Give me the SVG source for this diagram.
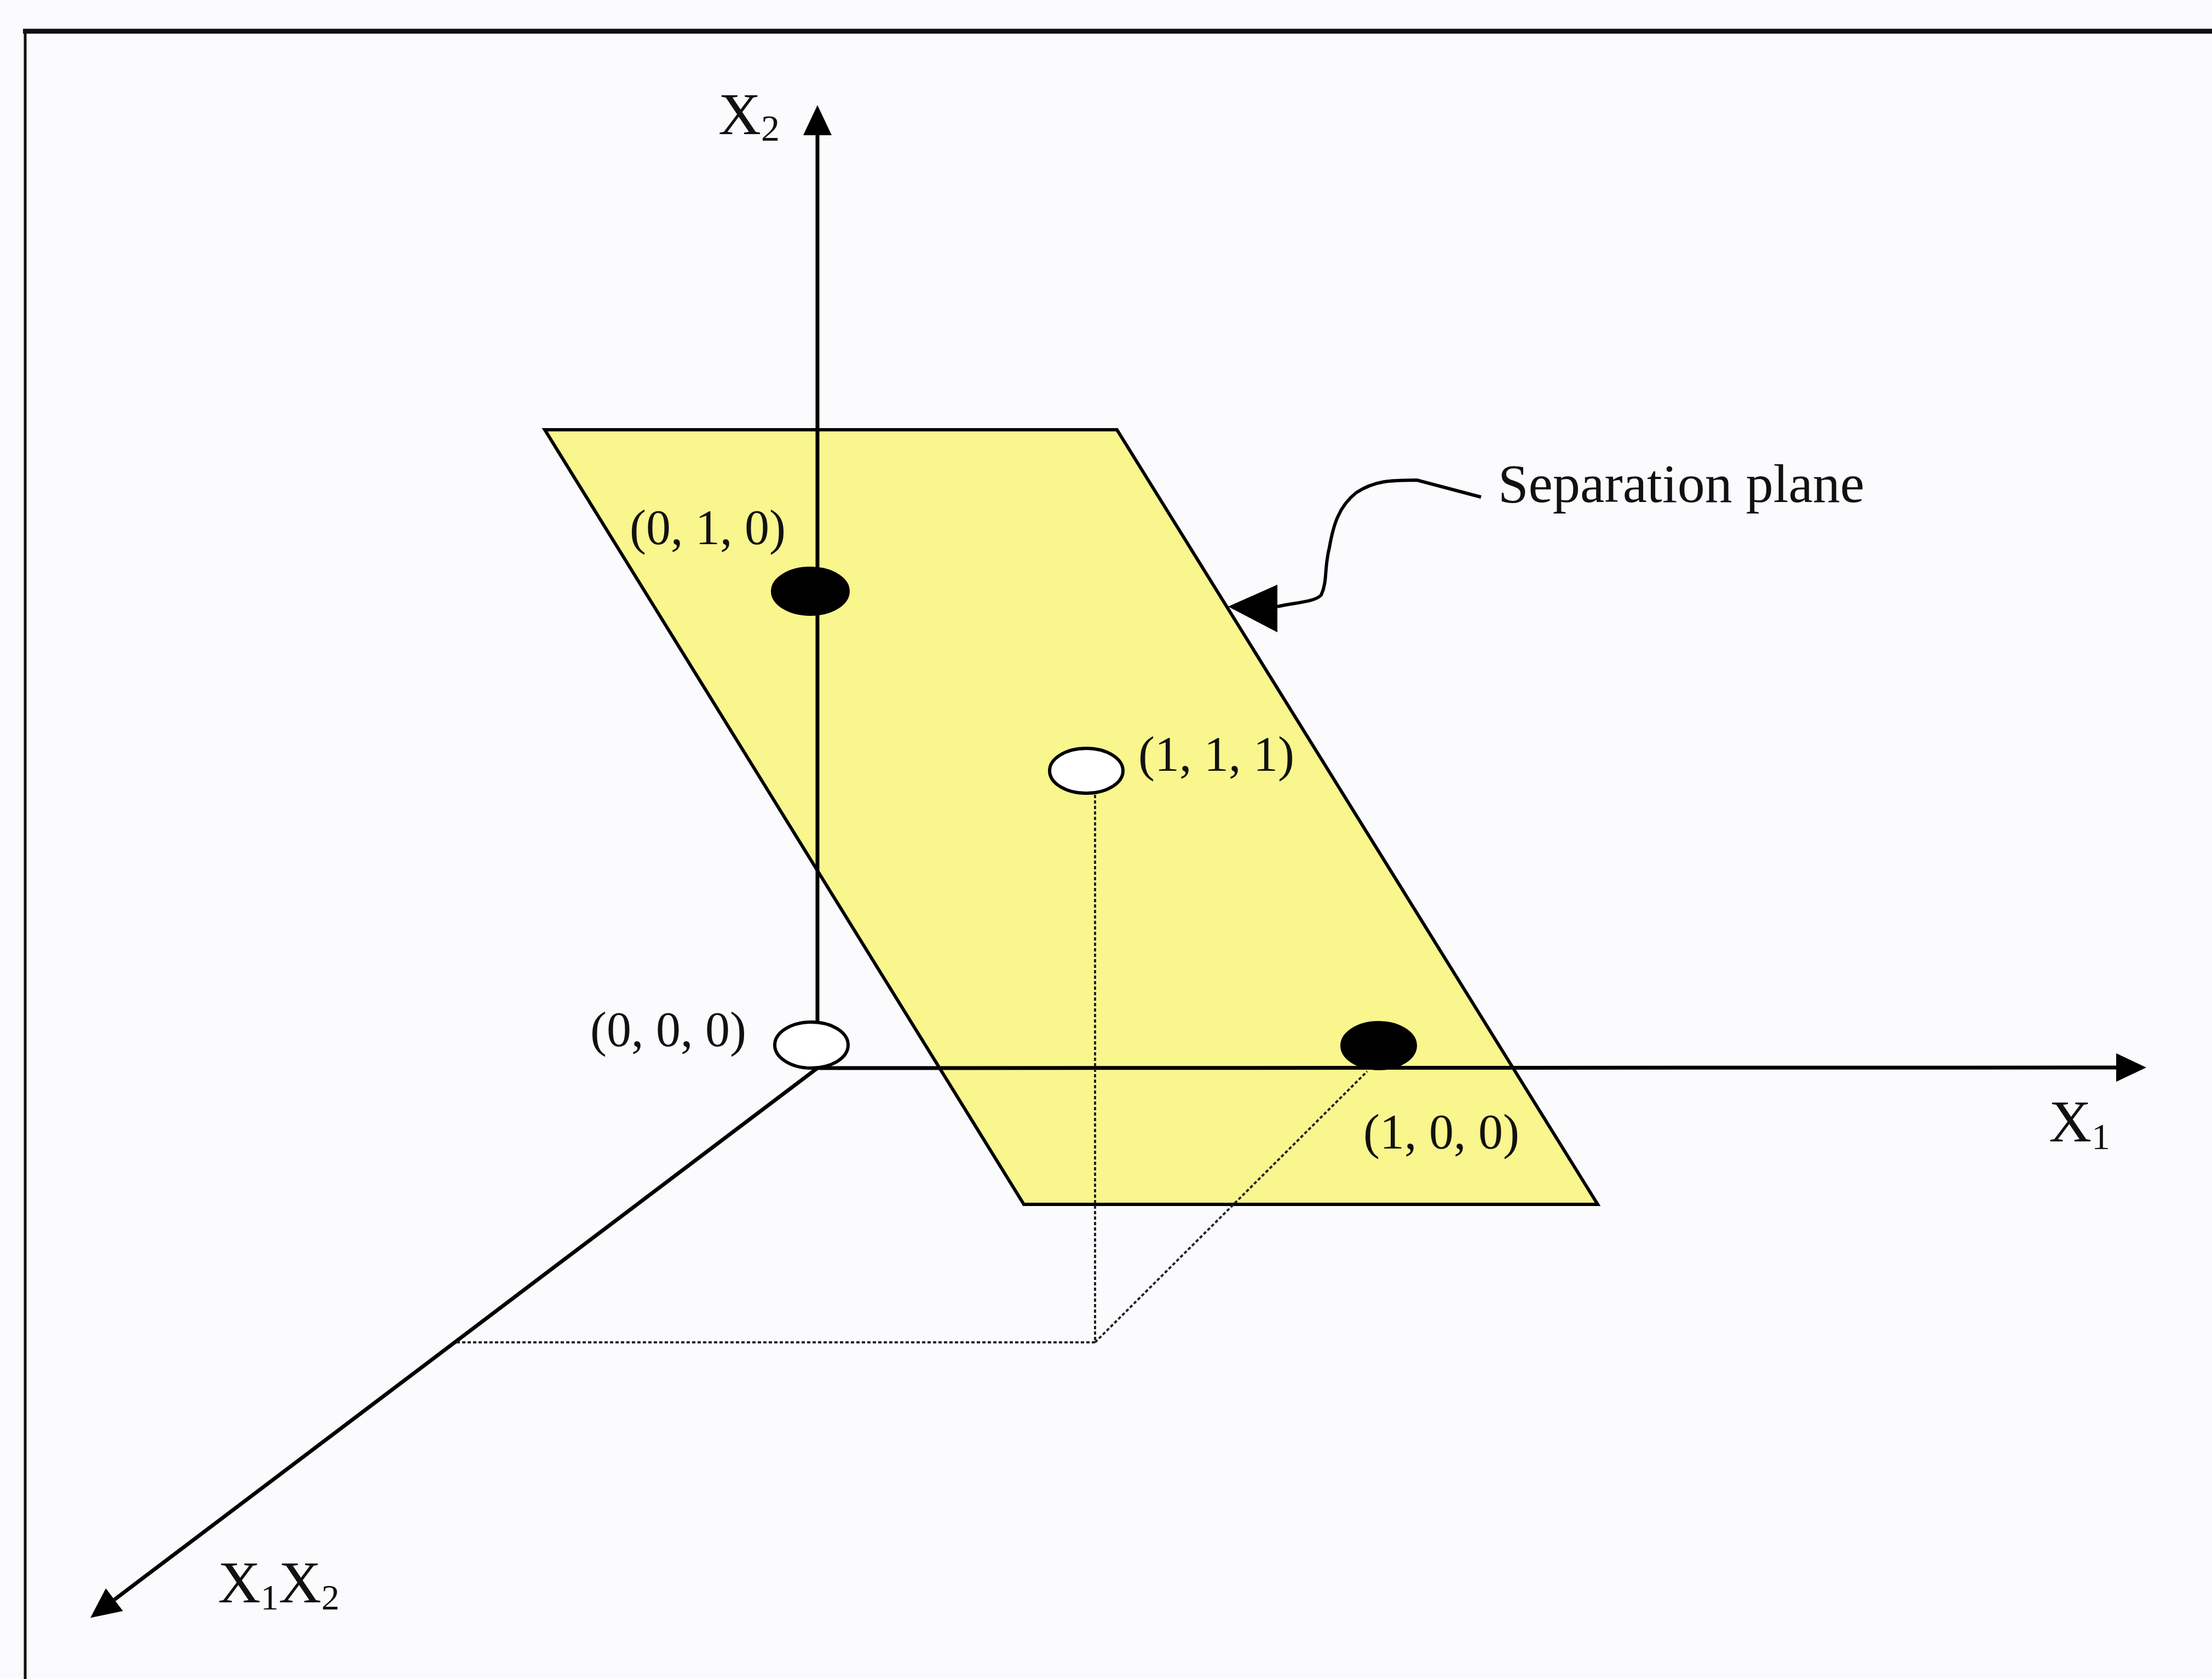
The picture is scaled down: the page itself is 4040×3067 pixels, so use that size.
<svg xmlns="http://www.w3.org/2000/svg" width="4040" height="3067" viewBox="0 0 4040 3067">
<defs>
<style>
.axis{stroke:#000;stroke-width:7;fill:none}
.frame{stroke:#111;fill:none}
.edge{stroke:#000;stroke-width:6}
.dot{stroke:#222;stroke-width:4;stroke-dasharray:6 4;fill:none}
.lbl{font-family:"Liberation Serif","Times New Roman",serif;fill:#111}
.pt-filled{fill:#000;stroke:#000;stroke-width:4}
.pt-open{fill:#fff;stroke:#000;stroke-width:6}
</style>
<marker id="arr" markerUnits="userSpaceOnUse" markerWidth="60" markerHeight="60" viewBox="0 -30 60 60" refX="0" refY="0" orient="auto">
<path d="M0,-26 L55,0 L0,26 Z" fill="#000"/>
</marker>
</defs>
<rect x="0" y="0" width="4040" height="3067" fill="#fbfbfd"/>
<g id="frame">
<line class="frame" x1="42" y1="57" x2="4040" y2="57" stroke-width="9"/>
<line class="frame" x1="46" y1="57" x2="46" y2="3067" stroke-width="5"/>
</g>
<g id="plane">
<polygon points="995,785 2040,785 2918,2200 1870,2200" fill="#f9f68e" class="edge"/>
</g>
<g id="connectors">
<line class="axis" x1="1493" y1="1951" x2="1493" y2="247" marker-end="url(#arr)"/>
<line class="axis" x1="1493" y1="1951" x2="3865" y2="1950" marker-end="url(#arr)"/>
<line class="axis" x1="1493" y1="1951" x2="209" y2="2922" marker-end="url(#arr)"/>
<line class="dot" x1="2000" y1="1452" x2="2000" y2="2452"/>
<line class="dot" x1="834" y1="2452" x2="2000" y2="2452"/>
<line class="dot" x1="2000" y1="2452" x2="2497" y2="1957"/>
<path d="M2705,908 L2588,877 C2540,877 2510,878 2477,900 C2445,925 2435,960 2428,1000 C2418,1040 2425,1060 2413,1087 C2400,1100 2370,1100 2333,1108" fill="none" stroke="#000" stroke-width="6"/>
<polygon points="2243,1108 2333,1068 2333,1155" fill="#000"/>
</g>
<g id="node-010">
<ellipse class="pt-filled" cx="1480" cy="1080" rx="70" ry="43"/>
<text class="lbl" x="1150" y="994" font-size="90">(0, 1, 0)</text>
</g>
<g id="node-111">
<ellipse class="pt-open" cx="1984" cy="1408" rx="67" ry="41"/>
<text class="lbl" x="2079" y="1408" font-size="90">(1, 1, 1)</text>
</g>
<g id="node-000">
<ellipse class="pt-open" cx="1482" cy="1909" rx="67" ry="42"/>
<text class="lbl" x="1078" y="1911" font-size="90">(0, 0, 0)</text>
</g>
<g id="node-100">
<ellipse class="pt-filled" cx="2518" cy="1910" rx="68" ry="43"/>
<text class="lbl" x="2490" y="2098" font-size="90">(1, 0, 0)</text>
</g>
<g id="axis-labels">
<text class="lbl" x="1312" y="245" font-size="108">X<tspan font-size="68" dy="12">2</tspan></text>
<text class="lbl" x="3742" y="2085" font-size="108">X<tspan font-size="68" dy="14">1</tspan></text>
<text class="lbl" x="398" y="2927" font-size="108">X<tspan font-size="66" dy="13">1</tspan><tspan dy="-13">X</tspan><tspan font-size="66" dy="13">2</tspan></text>
</g>
<g id="callout-label">
<text class="lbl" x="2736" y="917" font-size="100">Separation plane</text>
</g>
</svg>
